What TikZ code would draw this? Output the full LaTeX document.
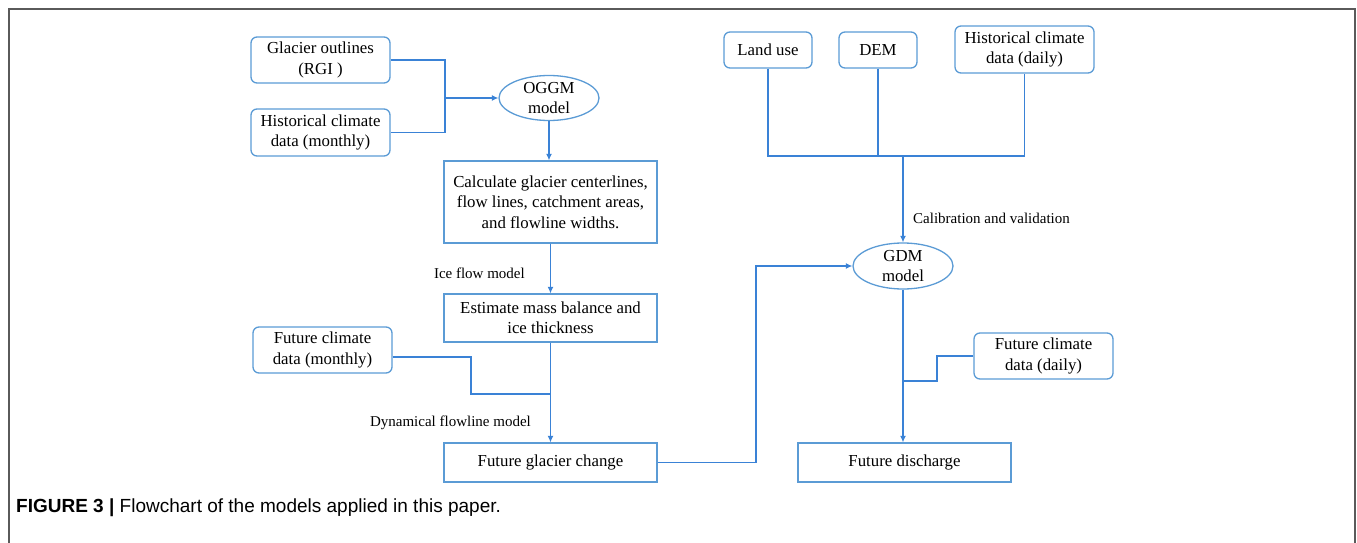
\documentclass[tikz,border=0pt]{standalone}
\usepackage{fontspec}
\setmainfont{Liberation Serif}
\newfontfamily\capfont{Liberation Sans}
\usetikzlibrary{arrows.meta,shapes.geometric}
\definecolor{boxblue}{HTML}{5B9BD5}
\definecolor{lineblue}{HTML}{3A82D6}
\definecolor{framegray}{HTML}{5A5A5A}
\tikzset{
  base/.style={draw=boxblue, line width=1.3pt, inner sep=0pt, align=center,
    font=\fontsize{16.8}{20.5}\selectfont, text=black},
  rbox/.style={base, rounded corners=6pt},
  sbox/.style={base},
  ebox/.style={base, ellipse},
  conn/.style={draw=lineblue, line width=1.2pt},
  arr/.style={conn, -{Latex[length=6.5pt,width=6pt]}},
  lbl/.style={inner sep=0pt, font=\fontsize{15}{18}\selectfont},
}
\begin{document}
\begin{tikzpicture}[x=1pt,y=-1pt]
\useasboundingbox (0,0) rectangle (1357,543);
\draw[framegray, line width=1.4pt] (9,543) |- (1355,9) -- (1355,543);

% left column
\node[rbox, minimum width=139pt, minimum height=46pt] (go) at (320.5,60) {Glacier outlines\\(RGI )};
\node[rbox, minimum width=139pt, minimum height=47pt] (hm) at (320.5,132.5) {Historical climate\\data (monthly)};
\node[ebox, minimum width=100pt, minimum height=45pt] (oggm) at (549,98) {OGGM\\model};
\node[sbox, minimum width=213pt, minimum height=82pt] (calc) at (550.5,202) {Calculate glacier centerlines,\\flow lines, catchment areas,\\and flowline widths.};
\node[sbox, minimum width=213pt, minimum height=48pt] (mass) at (550.5,318) {Estimate mass balance and\\ice thickness};
\node[rbox, minimum width=139pt, minimum height=46pt] (fm) at (322.5,350) {Future climate\\data (monthly)};
\node[sbox, minimum width=213pt, minimum height=39pt] (fgc) at (550.5,462.5) {Future glacier change};

% right column
\node[rbox, minimum width=88pt, minimum height=36pt] (land) at (768,50) {Land use};
\node[rbox, minimum width=78pt, minimum height=36pt] (dem) at (878,50) {DEM};
\node[rbox, minimum width=139pt, minimum height=47pt] (hd) at (1024.5,49.5) {Historical climate\\data (daily)};
\node[ebox, minimum width=100pt, minimum height=46pt] (gdm) at (903,266) {GDM\\model};
\node[rbox, minimum width=139pt, minimum height=46pt] (fd) at (1043.5,356) {Future climate\\data (daily)};
\node[sbox, minimum width=213pt, minimum height=39pt] (fdis) at (904.5,462.5) {Future discharge};

% labels
\node[lbl, anchor=east] (l1) at (525,273) {Ice flow model};
\node[lbl, anchor=east] (l2) at (531,423) {Dynamical flowline model};
\node[lbl, anchor=west] (l3) at (913,218) {Calibration and validation};

% junction coordinates
\coordinate (j1) at (445,98);
\coordinate (j2) at (471,394);
\coordinate (j3) at (756,266);
\coordinate (j4) at (903,156);
\coordinate (j5) at (937,381);

% connectors left
\draw[conn] (go.east) -| (j1) |- (hm.east);
\draw[arr] (j1) -- (oggm.west);
\draw[arr] (oggm.south) -- (oggm.south |- calc.north);
\draw[arr] (calc.south) -- (mass.north);
\draw[arr] (mass.south) -- (fgc.north);
\draw[conn] ([yshift=-7pt]fm.east) -| (j2) -- (j2 -| mass.south);
\draw[arr] (fgc.east) -| (j3) -- (gdm.west);

% connectors right
\draw[conn] (land.south) |- (hd.south |- j4) -- (hd.south);
\draw[conn] (dem.south) -- (dem.south |- j4);
\draw[arr] (j4) -- (gdm.north);
\draw[arr] (gdm.south) -- (gdm.south |- fdis.north);
\draw[conn] (fd.west) -| (j5) -- (j5 -| gdm.south);

% caption
\node[inner sep=0pt, anchor=west, font=\capfont\fontsize{19}{23}\selectfont] (cap) at (16,508)
  {\textbf{FIGURE 3 |} Flowchart of the models applied in this paper.};
\end{tikzpicture}
\end{document}
